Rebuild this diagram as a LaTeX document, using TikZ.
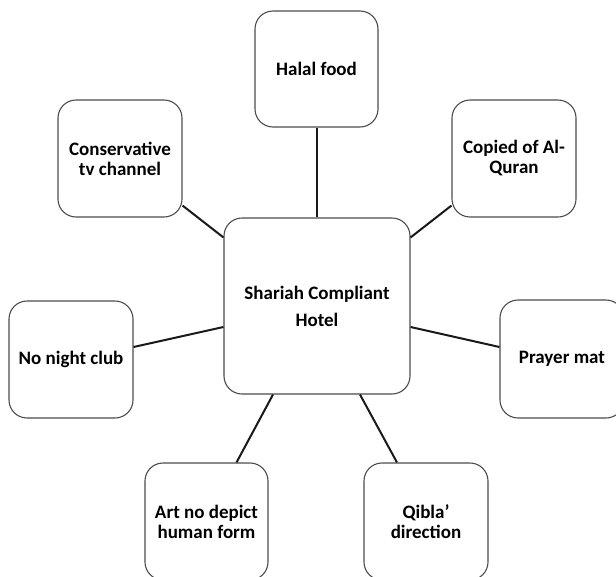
\documentclass[tikz,border=0pt]{standalone}
\usepackage{fontspec}
\setmainfont{Carlito}
\begin{document}
\begin{tikzpicture}[x=1pt,y=-1pt,
  box/.style={draw=black!70, line width=1.1pt, rounded corners=18pt, align=center,
    inner sep=0pt, font=\fontsize{19}{20}\selectfont\bfseries, text=black},
  link/.style={draw=black!90, line width=2pt}]
\useasboundingbox (0,0) rectangle (616,576);
\node[box, minimum width=123pt, minimum height=116pt] (halal) at (316.5,69) {Halal food};
\node[box, minimum width=124pt, minimum height=117pt] (cons) at (120,158.5) {Conservative\\tv channel};
\node[box, minimum width=124pt, minimum height=117pt] (cop) at (514,158.5) {Copied of Al-\\Quran};
\node[box, minimum width=186pt, minimum height=176pt, font=\fontsize{19}{27}\selectfont\bfseries] (ctr) at (317,306) {Shariah Compliant\\Hotel};
\node[box, minimum width=124pt, minimum height=117pt] (night) at (71,359.5) {No night club};
\node[box, minimum width=124pt, minimum height=118pt] (pray) at (562,359) {Prayer mat};
\node[box, minimum width=123pt, minimum height=117pt] (art) at (206.5,521.5) {Art no depict\\human form};
\node[box, minimum width=124pt, minimum height=117pt] (qib) at (426,521.5) {Qibla'\\direction};
\draw[link] (halal.south) -- (halal.south |- ctr.north);
\draw[link] ([yshift=12pt]cons.south east) -- ([yshift=-20pt]ctr.north west);
\draw[link] ([yshift=12pt]cop.south west) -- ([yshift=-20pt]ctr.north east);
\draw[link] ([yshift=12.5pt]night.east) -- ([yshift=-21pt]ctr.west);
\draw[link] ([yshift=12pt]pray.west) -- ([yshift=-21pt]ctr.east);
\draw[link] ([xshift=-44pt]ctr.south) -- ([xshift=30pt]art.north);
\draw[link] ([xshift=43pt]ctr.south) -- ([xshift=-29pt]qib.north);
\end{tikzpicture}
\end{document}
